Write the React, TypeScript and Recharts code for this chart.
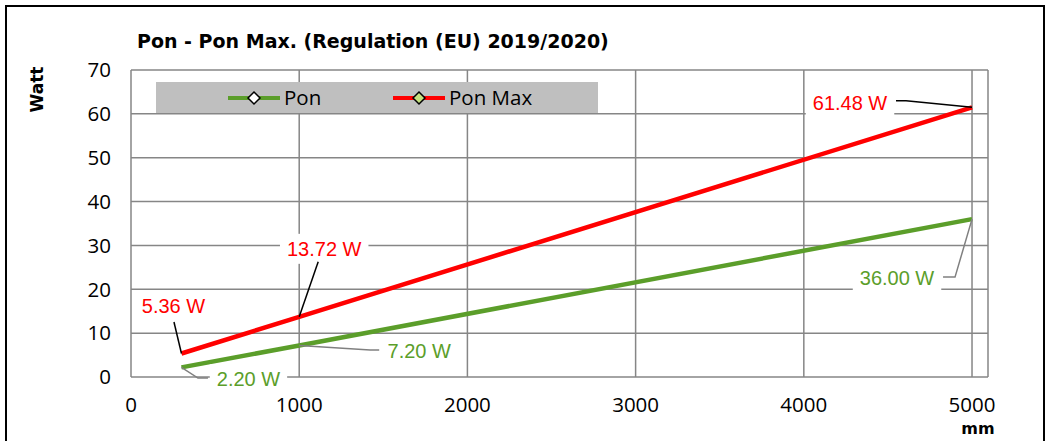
import { LineChart, Line, XAxis, YAxis, CartesianGrid, LabelList } from 'recharts';

const lengthMm = [300, 1000, 5000];
const ponWatt = [2.2, 7.2, 36.0];
const ponMaxWatt = [5.36, 13.72, 61.48];
const xTicks = [0, 1000, 2000, 3000, 4000, 5000];
const yTicks = [0, 10, 20, 30, 40, 50, 60, 70];

const GREEN = '#5B9E2A';
const RED = '#FF0000';
const GRID = '#868686';
const LABEL_FONT = 20;

const chartData = lengthMm.map((mm, i) => ({ mm, pon: ponWatt[i], ponMax: ponMaxWatt[i] }));

// label offsets relative to the data point: text centre + leader line path
const labelLayout: Record<string, { dx: number; dy: number; path: number[][] }[]> = {
  ponMax: [
    { dx: -8, dy: -47, path: [[-7.5, -31.5]] },
    { dx: 25, dy: -68, path: [[19, -55]] },
    { dx: -122, dy: -4, path: [[-66, -6.5], [-76, -6.5]] },
  ],
  pon: [
    { dx: 67, dy: 12, path: [[16.5, 10.7], [26.5, 10.7]] },
    { dx: 120, dy: 5.5, path: [[71, 4.6], [80, 4.6]] },
    { dx: -75, dy: 59, path: [[-17, 58], [-29, 58]] },
  ],
};

const charW = (c: string) => (c === '.' || c === ' ' ? 0.278 : c === 'W' ? 0.944 : 0.556);

const makeLabel = (key: string, color: string, leader: string) => (props: any) => {
  const { x, y, value, index } = props;
  const lay = labelLayout[key][index];
  if (!lay) return null;
  const text = `${Number(value).toFixed(2)} W`;
  const w = text.split('').reduce((s, c) => s + charW(c), 0) * LABEL_FONT;
  const cx = x + lay.dx;
  const cy = y + lay.dy;
  const pts = [[x, y], ...lay.path.map(([px, py]) => [x + px, y + py])];
  return (
    <g>
      <rect x={cx - w / 2 - 7} y={cy - 15} width={w + 14} height={30} fill="#fff" />
      <polyline points={pts.map(p => p.join(',')).join(' ')} fill="none" stroke={leader} strokeWidth={1.5} />
      <text x={cx} y={cy} textAnchor="middle" dominantBaseline="central" fill={color}
        fontFamily="Liberation Sans, Arial, sans-serif" fontSize={LABEL_FONT}>
        {text}
      </text>
    </g>
  );
};

const Diamond = ({ cx, fill }: { cx: number; fill: string }) => (
  <path d={`M${cx} ${10} L${cx + 6} ${16} L${cx} ${22} L${cx - 6} ${16} Z`} fill={fill} stroke="#000" strokeWidth={1.5} />
);

const LegendBox = () => (
  <svg width={442} height={31} style={{ display: 'block' }}>
    <rect x={0} y={0} width={442} height={31} fill="#BFBFBF" />
    <line x1={72} y1={16} x2={124} y2={16} stroke={GREEN} strokeWidth={4} />
    <Diamond cx={98} fill="#fff" />
    <text x={128} y={23} fontFamily="Open Sans, sans-serif" fontSize={20.5} fill="#000">Pon</text>
    <line x1={237} y1={16} x2={289} y2={16} stroke={RED} strokeWidth={4} />
    <Diamond cx={263} fill="#C4E07F" />
    <text x={293} y={23} fontFamily="Open Sans, sans-serif" fontSize={20.5} fill="#000">Pon Max</text>
  </svg>
);

const tickStyle = { fill: '#000', fontSize: 20.5, fontFamily: 'Open Sans, sans-serif' };

export default function App() {
  return (
    <div style={{ position: 'absolute', left: 0, top: 0, width: 1049, height: 441, background: '#fff', overflow: 'hidden' }}>
      <LineChart width={1049} height={441} data={chartData} margin={{ top: 70, right: 61, left: 0, bottom: 0 }}>
        <CartesianGrid stroke={GRID} strokeWidth={1.5} />
        <XAxis
          dataKey="mm"
          type="number"
          domain={[0, 5095]}
          ticks={xTicks}
          allowDataOverflow
          height={64}
          axisLine={false}
          tickLine={false}
          tickSize={0}
          tickMargin={20}
          tick={tickStyle}
        />
        <YAxis
          type="number"
          domain={[0, 70]}
          ticks={yTicks}
          width={131}
          axisLine={false}
          tickLine={false}
          tickSize={0}
          tickMargin={20}
          tick={tickStyle}
        />
        <Line type="linear" dataKey="pon" name="Pon" stroke={GREEN} strokeWidth={4.5} dot={false} isAnimationActive={false}>
          <LabelList dataKey="pon" content={makeLabel('pon', GREEN, '#808080')} />
        </Line>
        <Line type="linear" dataKey="ponMax" name="Pon Max" stroke={RED} strokeWidth={4.5} dot={false} isAnimationActive={false}>
          <LabelList dataKey="ponMax" content={makeLabel('ponMax', RED, '#000')} />
        </Line>
      </LineChart>
      <div style={{ position: 'absolute', left: 156, top: 82 }}>
        <LegendBox />
      </div>
      <svg width={1049} height={441} style={{ position: 'absolute', left: 0, top: 0, pointerEvents: 'none' }}>
        <rect x={6} y={6} width={1038} height={460} fill="none" stroke="#000" strokeWidth={2} />
        <text x={137} y={48} fontFamily="DejaVu Sans, sans-serif" fontWeight="bold" fontSize={19} fill="#000">
          Pon - Pon Max. (Regulation (EU) 2019/2020)
        </text>
        <text transform="translate(43,89.5) rotate(-90)" textAnchor="middle" fontFamily="DejaVu Sans, sans-serif"
          fontWeight="bold" fontSize={17} fill="#000">
          Watt
        </text>
        <text x={978} y={434} textAnchor="middle" fontFamily="DejaVu Sans, sans-serif" fontWeight="bold" fontSize={16} fill="#000">
          mm
        </text>
      </svg>
    </div>
  );
}
